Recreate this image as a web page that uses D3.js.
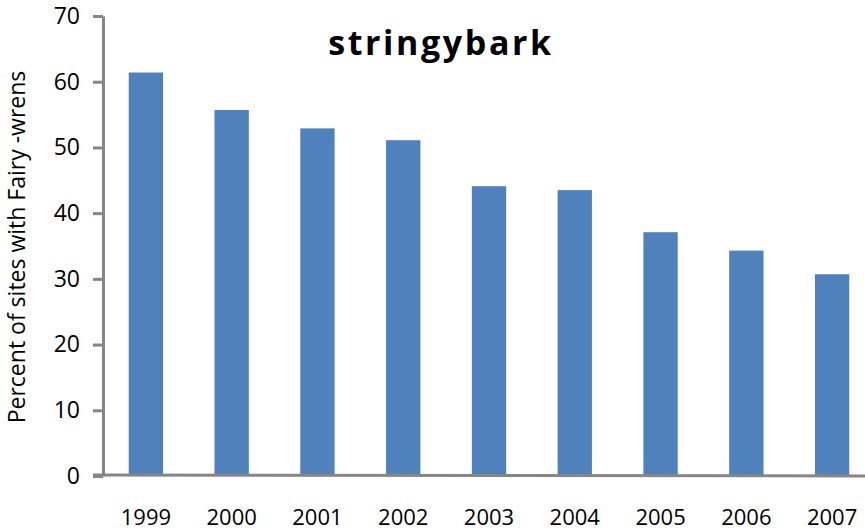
<!DOCTYPE html>
<html>
<head>
<meta charset="utf-8">
<script src="https://cdn.jsdelivr.net/npm/d3@7"></script>
<style>
  html, body { margin: 0; padding: 0; background: #fff; }
  svg { display: block; }
</style>
</head>
<body>
<svg id="chart" width="865" height="531"></svg>
<script>
const years = ["1999","2000","2001","2002","2003","2004","2005","2006","2007"];
const percentSites = [61.4, 55.7, 52.9, 51.1, 44.1, 43.5, 37.1, 34.3, 30.7];
const yTicks = [0, 10, 20, 30, 40, 50, 60, 70];
const titleText = "stringybark";
const yLabelText = "Percent of sites with Fairy -wrens";

const svg = d3.select("#chart");
const axisColor = "#868686";
const barColor = "#4f81bd";
const fontFam = "'Open Sans', sans-serif";

const x = d3.scaleBand().domain(years).range([103, 875]).paddingInner(0.6).paddingOuter(0.3);
const y = d3.scaleLinear().domain([0, 70]).range([476, 16]);

// bars
svg.append("g").selectAll("rect").data(years).join("rect")
  .attr("x", d => x(d))
  .attr("width", x.bandwidth())
  .attr("y", (d, i) => y(percentSites[i]))
  .attr("height", (d, i) => y(0) - y(percentSites[i]))
  .attr("fill", barColor);

// y axis
const yAxis = svg.append("g").attr("transform", "translate(103,0)")
  .call(d3.axisLeft(y).tickValues(yTicks).tickSize(10).tickPadding(13).tickSizeOuter(0));
yAxis.select(".domain").attr("stroke", axisColor).attr("stroke-width", 3);
yAxis.selectAll(".tick line").attr("stroke", axisColor).attr("stroke-width", 3);
yAxis.selectAll(".tick text").attr("font-family", fontFam).attr("font-size", 23).attr("fill", "#000");

// x axis
const xAxis = svg.append("g").attr("transform", "translate(0,476)")
  .call(d3.axisBottom(x).tickSize(0).tickPadding(33));
xAxis.select(".domain").remove();
xAxis.append("line").attr("x1", 93).attr("x2", 865).attr("y1", -1).attr("y2", 0)
  .attr("stroke", axisColor).attr("stroke-width", 3);
xAxis.selectAll(".tick text").attr("font-family", fontFam).attr("font-size", 22).attr("fill", "#000");

// title
svg.append("text").attr("x", 441).attr("y", 55).attr("text-anchor", "middle")
  .attr("font-family", fontFam).attr("font-weight", "bold").attr("font-size", 34)
  .attr("letter-spacing", 2.6)
  .attr("fill", "#000").text(titleText);

// y label
svg.append("text").attr("transform", "translate(25,247) rotate(-90)")
  .attr("text-anchor", "middle").attr("font-family", fontFam).attr("font-size", 23)
  .attr("fill", "#000").text(yLabelText);
</script>
</body>
</html>
